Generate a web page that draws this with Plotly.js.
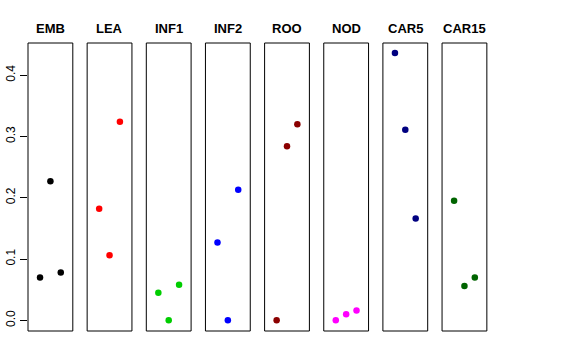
<!DOCTYPE html>
<html>
<head>
<meta charset="utf-8">
<script src="https://cdn.plot.ly/plotly-3.0.1.min.js"></script>
<style>html,body{margin:0;padding:0;background:#fff;}#chart{width:576px;height:360px;}</style>
</head>
<body>
<div id="chart"></div>
<script>
// Panel names and colours
var panels = ["EMB", "LEA", "INF1", "INF2", "ROO", "NOD", "CAR5", "CAR15"];
var colors = ["#000000", "#FF0000", "#00CD00", "#0000FF", "#8B0000", "#FF00FF", "#000080", "#006400"];
// x positions within each panel
var xpos = [1, 2, 3];
// values per panel
var EMB = [0.070, 0.227, 0.078];
var LEA = [0.182, 0.106, 0.324];
var INF1 = [0.045, 0.000, 0.058];
var INF2 = [0.127, 0.000, 0.213];
var ROO = [0.000, 0.284, 0.320];
var NOD = [0.000, 0.010, 0.016];
var CAR5 = [0.436, 0.311, 0.166];
var CAR15 = [0.195, 0.056, 0.070];
var values = [EMB, LEA, INF1, INF2, ROO, NOD, CAR5, CAR15];
var yTicks = [0, 0.1, 0.2, 0.3, 0.4];
var yTickLabels = ["0.0", "0.1", "0.2", "0.3", "0.4"];

var plotW = 460;
var step = 59.15, pw = 44.8;

var traces = [];
var layout = {
  width: 576, height: 360,
  margin: {l: 28, r: 88, t: 43, b: 29, pad: 0},
  paper_bgcolor: "#ffffff", plot_bgcolor: "rgba(0,0,0,0)",
  showlegend: false,
  font: {family: "Liberation Sans, Arial, sans-serif", color: "#000000", size: 12},
  yaxis: {
    anchor: "x", range: [-0.0174, 0.4524],
    tickmode: "array", tickvals: yTicks, ticktext: yTickLabels,
    ticks: "outside", ticklen: 7, tickwidth: 1, tickcolor: "#000000",
    tickangle: -90, tickfont: {size: 12, color: "#000000"},
    showgrid: false, zeroline: false, showline: false
  },
  shapes: [], annotations: []
};

for (var i = 0; i < panels.length; i++) {
  var ax = i === 0 ? "x" : "x" + (i + 1);
  var axKey = i === 0 ? "xaxis" : "xaxis" + (i + 1);
  var d0 = (i * step) / plotW, d1 = (i * step + pw) / plotW;
  layout[axKey] = {
    domain: [d0, Math.min(d1, 1)], anchor: "y", range: [-0.16, 4.16],
    visible: false, showgrid: false, zeroline: false, fixedrange: true
  };
  traces.push({
    type: "scatter", mode: "markers", x: xpos, y: values[i],
    xaxis: ax, yaxis: "y", cliponaxis: false,
    marker: {color: colors[i], size: 6.5, line: {width: 0}},
    hoverinfo: "skip"
  });
  layout.shapes.push({
    type: "rect", xref: ax + " domain", yref: "y domain",
    x0: 0, x1: 1, y0: 0, y1: 1,
    line: {color: "#000000", width: 1}, fillcolor: "rgba(0,0,0,0)", layer: "above"
  });
  layout.annotations.push({
    text: "<b>" + panels[i] + "</b>", xref: ax + " domain", yref: "y domain",
    x: 0.5, y: 1, xanchor: "center", yanchor: "bottom", yshift: 5,
    showarrow: false, font: {size: 13, color: "#000000", family: "Liberation Sans, Arial, sans-serif"}
  });
}

Plotly.newPlot("chart", traces, layout, {staticPlot: true, displayModeBar: false});
</script>
</body>
</html>
